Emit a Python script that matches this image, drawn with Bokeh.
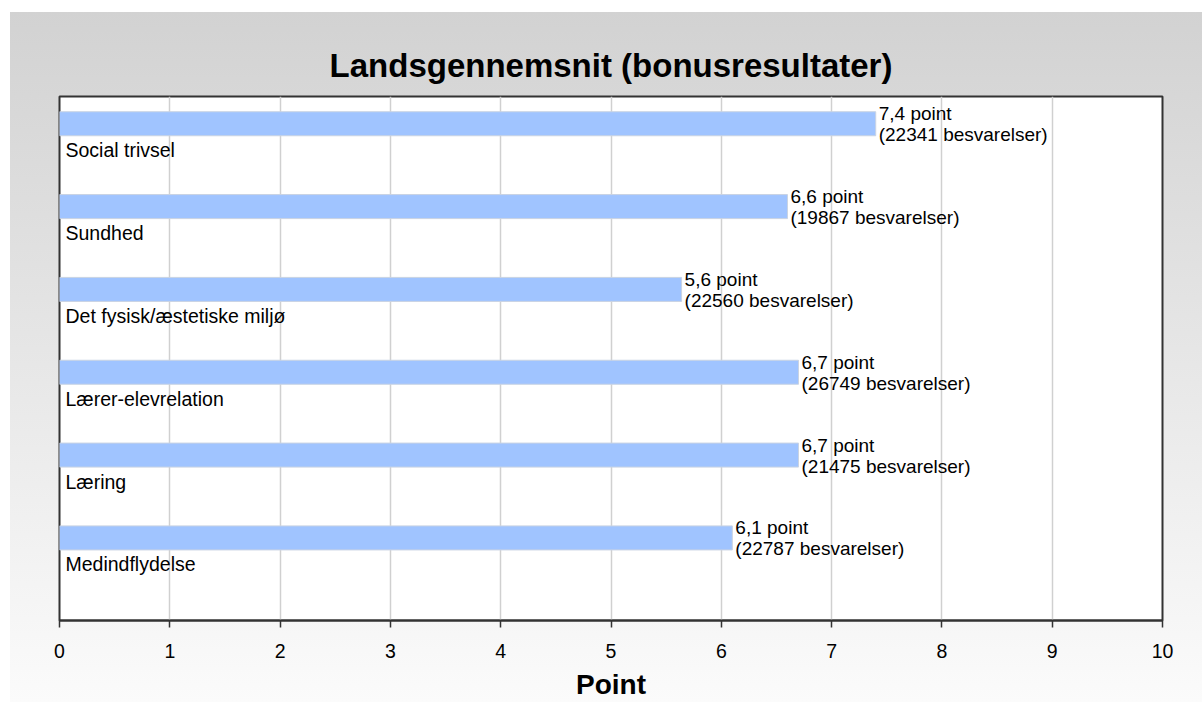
from bokeh.plotting import figure
from bokeh.models import Range1d, FixedTicker, ColumnDataSource
from bokeh.core.properties import value
from bokeh.embed import file_html
from bokeh.resources import INLINE

title_text = "Landsgennemsnit (bonusresultater)"
categories = ["Social trivsel", "Sundhed", "Det fysisk/æstetiske miljø",
              "Lærer-elevrelation", "Læring", "Medindflydelse"]
values = [7.4, 6.6, 5.64, 6.7, 6.7, 6.1]
responses = [22341, 19867, 22560, 26749, 21475, 22787]
x_ticks = [0, 1, 2, 3, 4, 5, 6, 7, 8, 9, 10]

FONT = value("Liberation Sans")
idx = list(range(len(categories)))
src = ColumnDataSource(dict(
    y=idx,
    v=values,
    zero=[0] * len(values),
    cat=categories,
    line1=[("%.1f" % v).replace(".", ",") + " point" for v in values],
    line2=["(%d besvarelser)" % r for r in responses],
))

p = figure(width=1192, height=690, output_backend="svg", toolbar_location=None,
           x_range=Range1d(0, 10), y_range=Range1d(5.997, -0.329),
           min_border_left=49, min_border_right=40, min_border_top=84,
           min_border_bottom=71)
p.styles = {"margin-left": "10px", "margin-top": "12px",
            "background": "linear-gradient(to bottom, #d2d2d2, #fbfbfb)"}
p.border_fill_color = None
p.background_fill_color = "white"
p.outline_line_color = "#333333"
p.outline_line_width = 2

p.title.text = title_text
p.title.align = "center"
p.title.vertical_align = "middle"
p.title.text_font = "Liberation Sans"
p.title.text_font_size = "33px"
p.title.text_font_style = "bold"
p.title.text_color = "black"
p.title.standoff = 24

p.hbar(y="y", left="zero", right="v", height=0.29, source=src,
       fill_color="#a0c4ff", line_color="#c9d3e3", line_width=1)

p.text(x="zero", y="y", text="cat", source=src, x_offset=6, y_offset=26.5,
       text_baseline="alphabetic", text_align="left", text_font=FONT,
       text_font_size="19.5px", text_color="black")
p.text(x="v", y="y", text="line1", source=src, x_offset=3, y_offset=-10,
       text_baseline="alphabetic", text_align="left", text_font=FONT,
       text_font_size="19px", text_color="black")
p.text(x="v", y="y", text="line2", source=src, x_offset=3, y_offset=11,
       text_baseline="alphabetic", text_align="left", text_font=FONT,
       text_font_size="19px", text_color="black")

p.yaxis.visible = False
p.ygrid.visible = False
xa = p.xaxis[0]
xa.ticker = FixedTicker(ticks=x_ticks)
xa.axis_label = "Point"
xa.axis_label_text_font = "Liberation Sans"
xa.axis_label_text_font_size = "28px"
xa.axis_label_text_font_style = "bold"
xa.axis_label_text_color = "black"
xa.axis_label_standoff = 8
xa.major_label_text_font = "Liberation Sans"
xa.major_label_text_font_size = "19.5px"
xa.major_label_text_color = "black"
xa.major_label_standoff = 16
xa.axis_line_color = "#333333"
xa.axis_line_width = 2
xa.major_tick_line_color = "#333333"
xa.major_tick_line_width = 1.5
xa.major_tick_in = 0
xa.major_tick_out = 7
xa.minor_tick_line_color = None
p.xgrid.grid_line_color = "#d0d0d0"
p.xgrid.grid_line_width = 1.5

open("out.html", "w").write(file_html(p, INLINE))
